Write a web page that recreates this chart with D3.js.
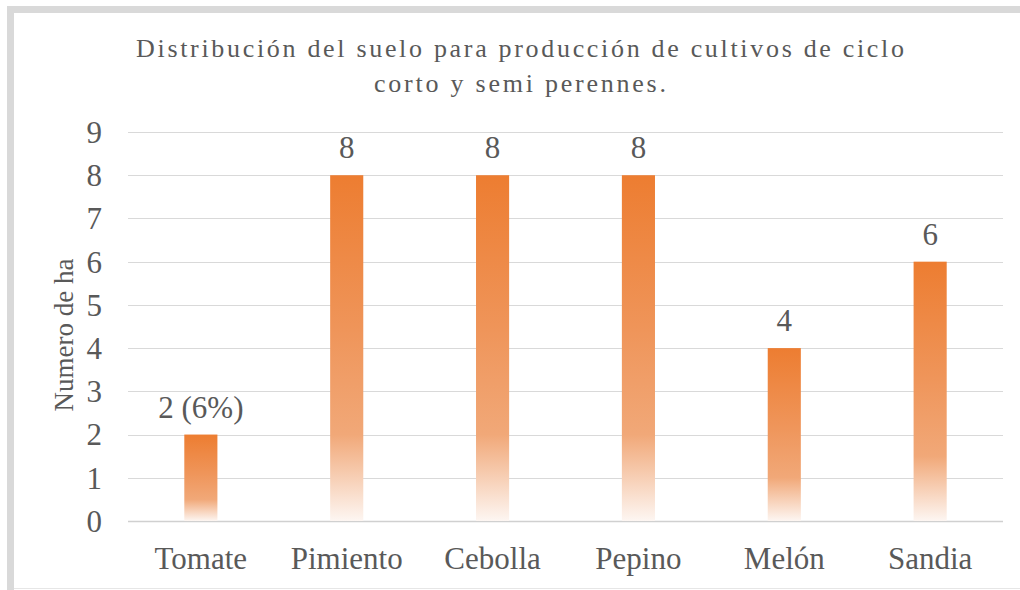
<!DOCTYPE html>
<html><head><meta charset="utf-8">
<script src="https://cdn.jsdelivr.net/npm/d3@7"></script>
<style>
html,body{margin:0;padding:0;background:#fff;}
</style></head>
<body>
<svg id="c" width="1020" height="590"></svg>
<script>
const categories = ["Tomate","Pimiento","Cebolla","Pepino","Melón","Sandia"];
const values = [2,8,8,8,4,6];
const labels = ["2 (6%)","8","8","8","4","6"];
const yTicks = [0,1,2,3,4,5,6,7,8,9];
const titleLines = ["Distribución del suelo para producción de cultivos de ciclo","corto y semi perennes."];
const yTitle = "Numero de ha";

const FONT = "'Liberation Serif'";
const TXT = "#595959";
const svg = d3.select("#c");
// frame
svg.append("rect").attr("x",0).attr("y",0).attr("width",1020).attr("height",590).attr("fill","#fff");
svg.append("rect").attr("x",7).attr("y",6).attr("width",1013).attr("height",7).attr("fill","#d9d9d9");
svg.append("rect").attr("x",7).attr("y",6).attr("width",7).attr("height",584).attr("fill","#d9d9d9");
svg.append("line").attr("x1",14).attr("x2",1020).attr("y1",588.5).attr("y2",588.5).attr("stroke","#e6e6e6").attr("stroke-width",1);

const x = d3.scaleBand().domain(categories).range([128,1003]).paddingInner(0.773).paddingOuter(0.386);
const y = d3.scaleLinear().domain([0,9]).range([521,132]);

const defs = svg.append("defs");
const g = defs.append("linearGradient").attr("id","grad").attr("x1",0).attr("y1",0).attr("x2",0).attr("y2",1);
g.append("stop").attr("offset","0%").attr("stop-color","#ed7d31");
g.append("stop").attr("offset","45%").attr("stop-color","#ef955a");
g.append("stop").attr("offset","75%").attr("stop-color","#f1a878");
g.append("stop").attr("offset","100%").attr("stop-color","#fdf6f2");

// gridlines
svg.append("g").selectAll("line").data(yTicks).join("line")
  .attr("x1",128).attr("x2",1003)
  .attr("y1",d=>Math.round(y(d))+0.5).attr("y2",d=>Math.round(y(d))+0.5)
  .attr("stroke",d=>d===0?"#d0d0d0":"#d9d9d9").attr("stroke-width",d=>d===0?1.5:1.2);

function txt(sel, size){ return sel.style("font-family",FONT).style("font-size",size+"px").style("fill",TXT); }

// y tick labels
txt(svg.append("g").selectAll("text").data(yTicks).join("text")
  .attr("x",102).attr("y",d=>y(d)).attr("dy","0.35em").attr("text-anchor","end")
  .text(d=>d), 31);

// bars
svg.append("g").selectAll("rect").data(values).join("rect")
  .attr("x",(d,i)=>x(categories[i])).attr("width",x.bandwidth())
  .attr("y",d=>y(d)).attr("height",d=>y(0)-y(d)).attr("fill","url(#grad)");

// data labels
txt(svg.append("g").selectAll("text").data(values).join("text")
  .attr("x",(d,i)=>x(categories[i])+x.bandwidth()/2).attr("y",d=>y(d)-17)
  .attr("text-anchor","middle").text((d,i)=>labels[i]), 31);

// category labels
txt(svg.append("g").selectAll("text").data(categories).join("text")
  .attr("x",d=>x(d)+x.bandwidth()/2).attr("y",569)
  .attr("text-anchor","middle").text(d=>d), 31);

// y title
txt(svg.append("text").attr("transform","translate(73,335) rotate(-90)")
  .attr("text-anchor","middle").text(yTitle), 27);

// title
txt(svg.append("text").attr("x",520).attr("y",57).attr("text-anchor","middle")
  .attr("textLength",768).attr("lengthAdjust","spacing").text(titleLines[0]), 26);
txt(svg.append("text").attr("x",520).attr("y",92).attr("text-anchor","middle")
  .attr("textLength",292).attr("lengthAdjust","spacing").text(titleLines[1]), 26);
</script>
</body></html>
